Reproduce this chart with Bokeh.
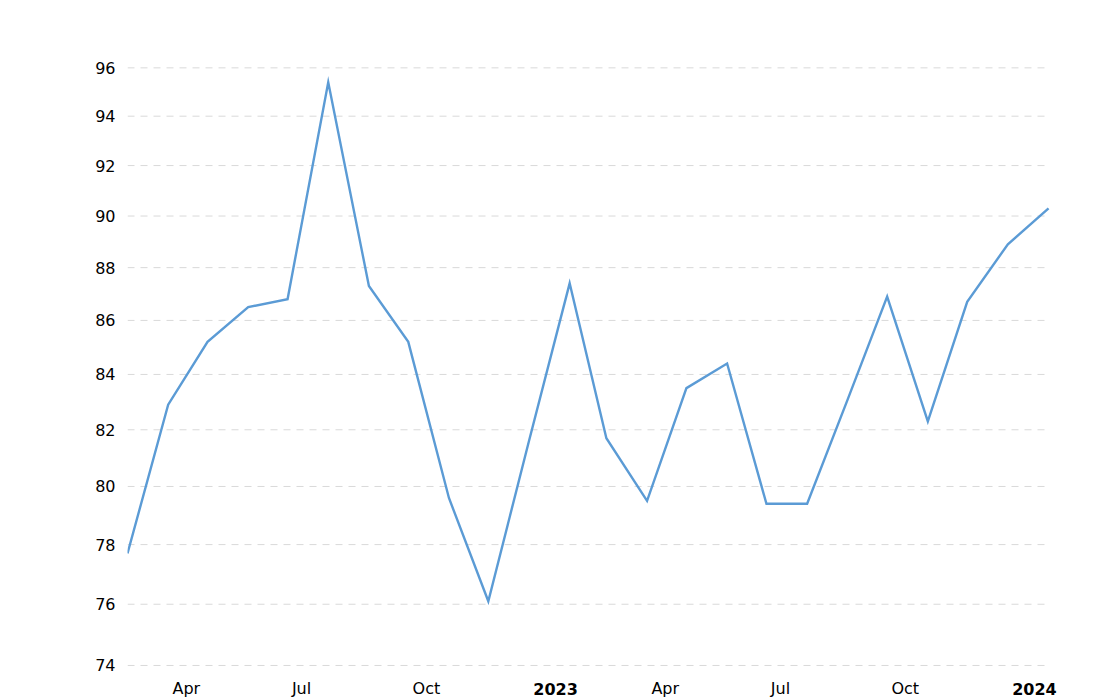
import pandas as pd
from bokeh.plotting import figure
from bokeh.models import Range1d, FixedTicker, NumeralTickFormatter, Label, ColumnDataSource
from bokeh.embed import file_html
from bokeh.resources import INLINE

# ---- data ----
dates = ["2022-02-28", "2022-03-31", "2022-04-30", "2022-05-31", "2022-06-30",
         "2022-07-31", "2022-08-31", "2022-09-30", "2022-10-31", "2022-11-30",
         "2022-12-31", "2023-01-31", "2023-02-28", "2023-03-31", "2023-04-30",
         "2023-05-31", "2023-06-30", "2023-07-31", "2023-08-31", "2023-09-30",
         "2023-10-31", "2023-11-30", "2023-12-31", "2024-01-31"]
values = [77.7, 82.9, 85.2, 86.5, 86.8, 95.4, 87.3, 85.2, 79.6, 76.1,
          81.6, 87.4, 81.7, 79.5, 83.5, 84.4, 79.4, 79.4, 83.1, 86.9,
          82.3, 86.7, 88.9, 90.3]

y_ticks = [74, 76, 78, 80, 82, 84, 86, 88, 90, 92, 94, 96]
x_tick_dates = ["2022-04-01", "2022-07-01", "2022-10-01", "2023-01-01",
                "2023-04-01", "2023-07-01", "2023-10-01", "2024-01-01"]
x_tick_labels = ["Apr", "Jul", "Oct", "2023", "Apr", "Jul", "Oct", "2024"]
x_tick_bold = [False, False, False, True, False, False, False, True]

FONT = "DejaVu Sans"

x = pd.to_datetime(dates)
source = ColumnDataSource(data=dict(x=x, y=values))

# The frame is extended right and down so the date labels (drawn inside it)
# are not clipped; the data still spans the same pixels as the reference.
x_end = x[-1] + pd.Timedelta(days=39.6)

p = figure(width=1100, height=700, x_axis_type="datetime", y_axis_type="log",
           output_backend="svg", toolbar_location=None,
           x_range=Range1d(start=x[0], end=x_end),
           y_range=Range1d(start=72.88, end=98.0),
           min_border_left=127, min_border_right=0,
           min_border_top=20, min_border_bottom=0)

p.outline_line_color = None
p.background_fill_color = "white"
p.border_fill_color = "white"

# horizontal dashed grid lines, spanning the data's date range
p.segment(x0=[x[0]] * len(y_ticks), x1=[x[-1]] * len(y_ticks),
          y0=y_ticks, y1=y_ticks, line_color="#d9d9d9", line_width=1,
          line_dash="7 6")

p.line("x", "y", source=source, line_color="#5b9bd5", line_width=2.4,
       line_join="miter")

# y axis
p.yaxis.ticker = FixedTicker(ticks=y_ticks, minor_ticks=[])
p.yaxis.formatter = NumeralTickFormatter(format="0")
p.yaxis.axis_line_color = None
p.yaxis.major_tick_line_color = None
p.yaxis.minor_tick_line_color = None
p.yaxis.major_tick_out = 0
p.yaxis.major_tick_in = 0
p.yaxis.major_label_standoff = 12
p.yaxis.major_label_text_font = FONT
p.yaxis.major_label_text_font_size = "16px"
p.yaxis.major_label_text_color = "#000000"

p.xaxis.visible = False
p.xgrid.visible = False
p.ygrid.visible = False

# x tick labels, left-aligned at the tick position
for d, lab, bold in zip(x_tick_dates, x_tick_labels, x_tick_bold):
    ms = pd.Timestamp(d).value / 1e6
    p.add_layout(Label(x=ms, y=12, x_units="data", y_units="screen",
                       text=lab, text_align="left", text_baseline="alphabetic",
                       x_offset=3, text_font=FONT, text_font_size="16px",
                       text_color="#000000",
                       text_font_style="bold" if bold else "normal"))

open("out.html", "w").write(file_html(p, INLINE))
